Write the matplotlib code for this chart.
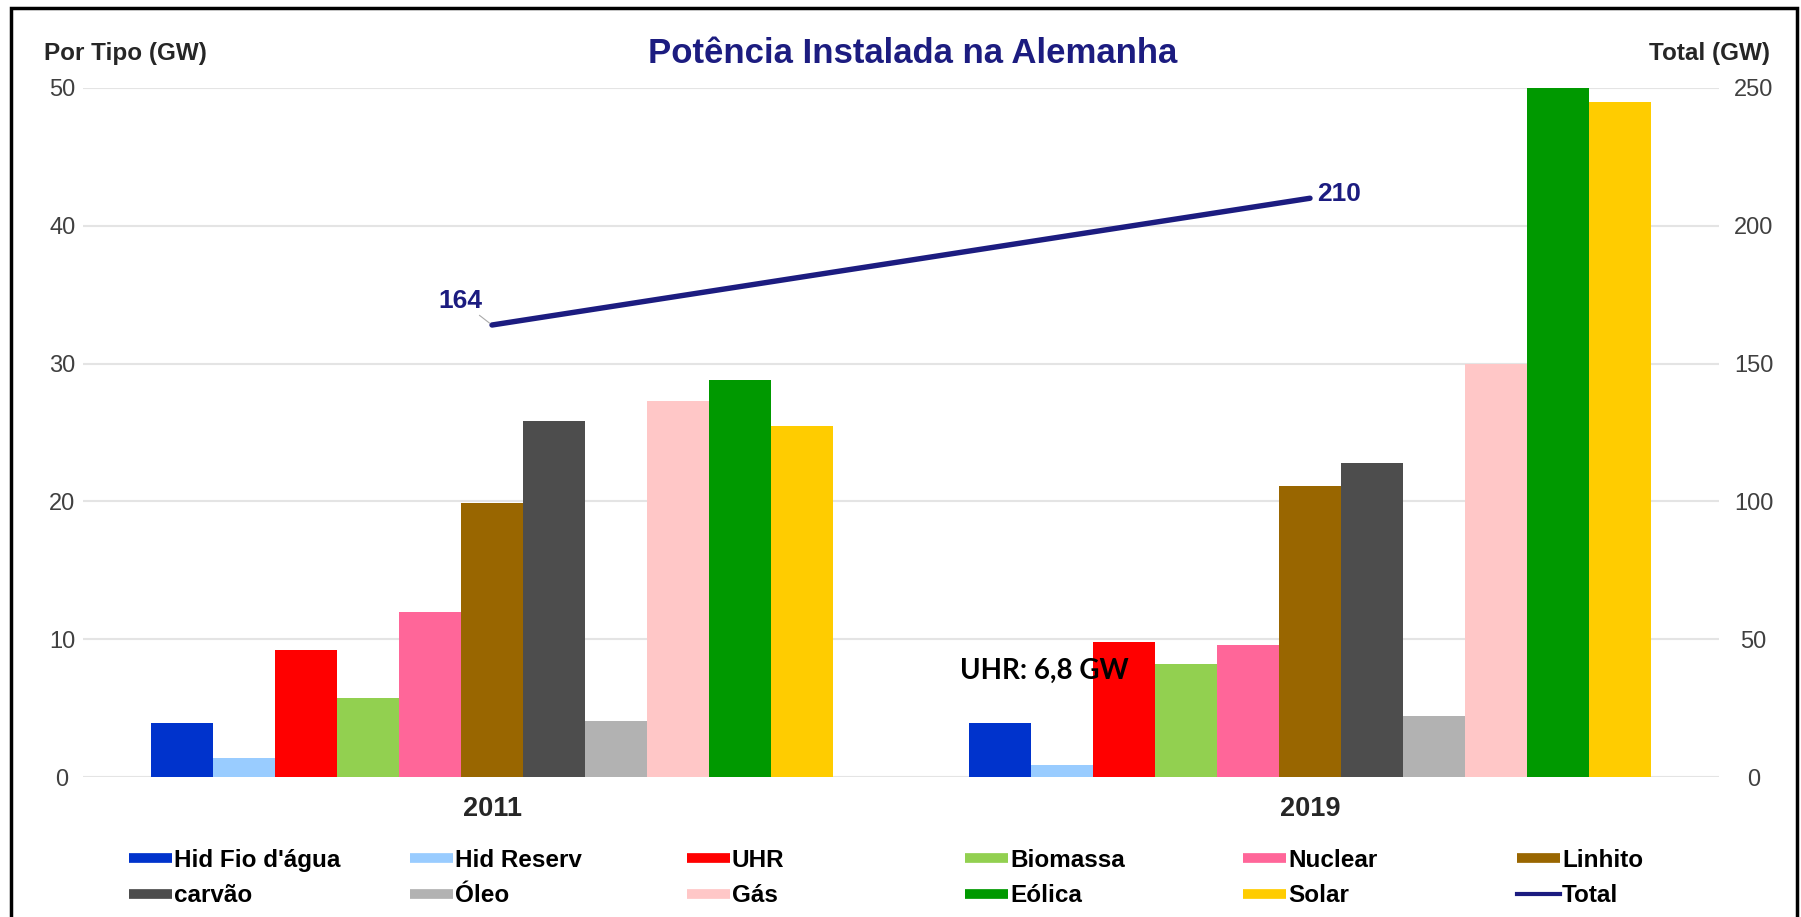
import numpy as np
import matplotlib.pyplot as plt
from matplotlib.lines import Line2D
from matplotlib.patches import Rectangle

years = ['2011', '2019']
tipos = ["Hid Fio d'água", 'Hid Reserv', 'UHR', 'Biomassa', 'Nuclear', 'Linhito',
         'carvão', 'Óleo', 'Gás', 'Eólica', 'Solar']
gw_2011 = [3.9, 1.4, 9.2, 5.7, 12.0, 19.9, 25.8, 4.1, 27.3, 28.8, 25.5]
gw_2019 = [3.9, 0.9, 9.8, 8.2, 9.6, 21.1, 22.8, 4.4, 30.0, 50.0, 49.0]
total = [164, 210]
cores = ['#0033cc', '#99ccff', '#ff0000', '#92d050', '#ff6699', '#996600',
         '#4d4d4d', '#b2b2b2', '#ffc7c7', '#009900', '#ffcc00']
navy = '#1c1c80'

plt.rcParams['font.family'] = 'Liberation Sans'

fig = plt.figure(figsize=(18.01, 9.17), dpi=100)
ax = fig.add_axes([83 / 1801, 1 - 777 / 917, (1719 - 83) / 1801, (777 - 88) / 917])

x = np.arange(len(years))
w = 0.0758
for i, t in enumerate(tipos):
    ax.bar(x + (i - 5) * w, [gw_2011[i], gw_2019[i]], width=w, color=cores[i], zorder=2)

ax.set_xlim(-0.5, 1.5)
ax.set_ylim(0, 50)
ax.set_yticks(range(0, 51, 10))
ax.grid(axis='y', color='#e4e4e4', lw=1.5, zorder=0)
ax.set_axisbelow(True)
for s in ax.spines.values():
    s.set_visible(False)
ax.tick_params(length=0)
ax.set_xticks(x)
ax.set_xticklabels(years, fontsize=19.5, fontweight='bold', color='#262626')
ax.tick_params(axis='x', pad=14)
ax.tick_params(axis='y', labelsize=17, labelcolor='#404040', pad=15)
for lb in ax.get_yticklabels():
    lb.set_ha('center')

ax2 = ax.twinx()
ax2.set_ylim(0, 250)
ax2.set_yticks(range(0, 251, 50))
for s in ax2.spines.values():
    s.set_visible(False)
ax2.tick_params(length=0, labelsize=17, labelcolor='#404040', pad=25)
for lb in ax2.get_yticklabels():
    lb.set_ha('center')
ax2.plot(x, total, color=navy, lw=3.9, solid_capstyle='round')
ax2.annotate(str(total[0]), xy=(x[0], total[0]), xytext=(-7, 9), textcoords='offset points',
             ha='right', va='bottom', fontsize=19, fontweight='bold', color=navy,
             arrowprops=dict(arrowstyle='-', color='#aaaaaa', lw=0.8, shrinkA=0, shrinkB=2))
ax2.annotate(str(total[1]), xy=(x[1], total[1]), xytext=(5, 3), textcoords='offset points',
             ha='left', va='center', fontsize=19, fontweight='bold', color=navy)

# titles
fig.text(0.5065, 0.942, 'Potência Instalada na Alemanha', ha='center', va='center',
         fontsize=25, fontweight='bold', color=navy)
fig.text(44 / 1801, 0.942, 'Por Tipo (GW)', ha='left', va='center',
         fontsize=17.5, fontweight='bold', color='#262626')
fig.text(1770 / 1801, 0.942, 'Total (GW)', ha='right', va='center',
         fontsize=17.5, fontweight='bold', color='#262626')

ax.text(960 / 1801, 1 - 671 / 917, 'UHR: 6,8 GW', transform=fig.transFigure,
        ha='left', va='center', fontsize=20, fontweight='bold', family='Lato', color='black')

# legend: one legend per column so the columns are evenly spaced
handles = [Line2D([], [], color=c, lw=7, solid_capstyle='butt') for c in cores]
handles.append(Line2D([], [], color=navy, lw=3))
labels = tipos + ['Total']
col_x = [129, 410, 687, 965, 1243, 1517]
for j, cx in enumerate(col_x):
    fig.legend([handles[j], handles[j + 6]], [labels[j], labels[j + 6]],
               loc='upper left', bbox_to_anchor=(cx / 1801, 1 - 849 / 917),
               frameon=False, borderpad=0, borderaxespad=0, handlelength=1.75,
               handletextpad=0.1, labelspacing=0.5,
               prop={'weight': 'bold', 'size': 17.5})

# outer frame
fig.add_artist(Rectangle((11 / 1801, -0.05), 1786 / 1801, 1.05 - 8 / 917,
                         transform=fig.transFigure, fill=False, ec='black', lw=2.5))

fig.savefig('out.png', dpi=100)
